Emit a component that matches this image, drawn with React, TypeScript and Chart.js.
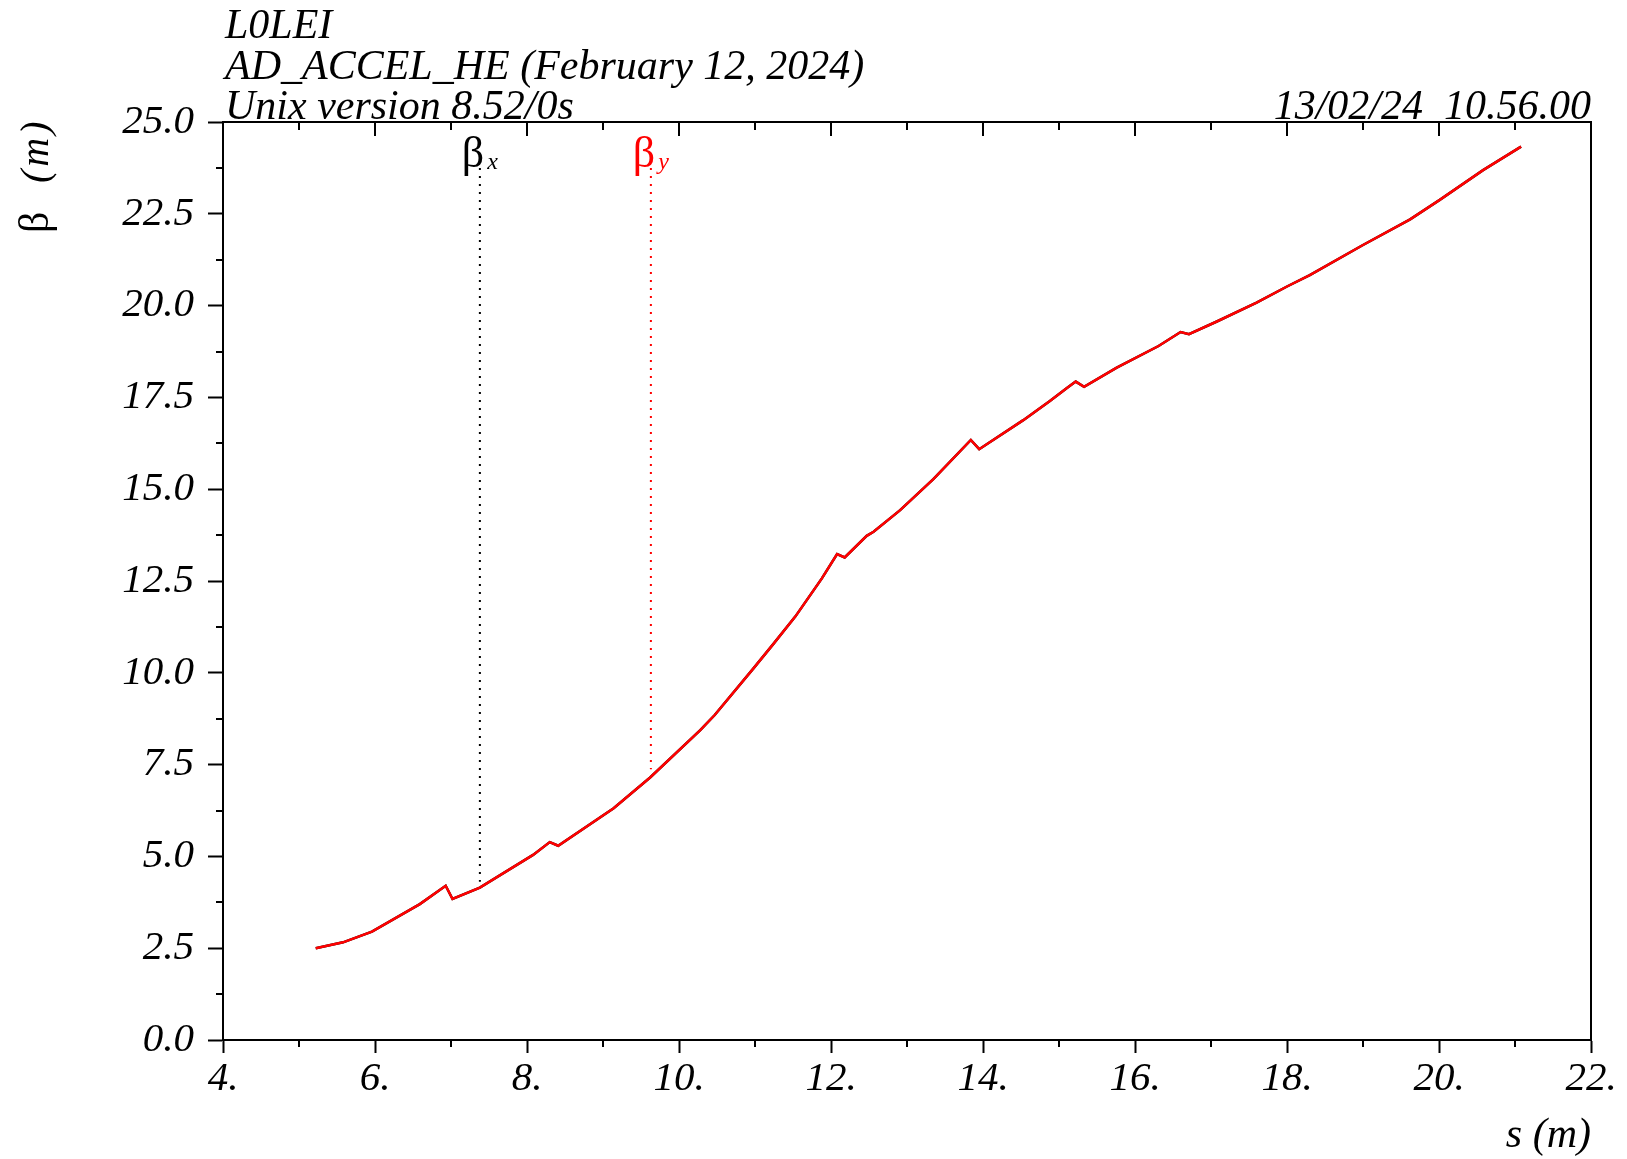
import { useEffect, useRef } from 'react';
import { Chart, registerables } from 'chart.js';

Chart.register(...registerables);

// ---- data ----
const sValues = [5.22, 5.58, 5.96, 6.59, 6.93, 7.02, 7.38, 8.08, 8.30, 8.41, 9.14, 9.62, 10.28, 10.47, 10.98, 11.24, 11.53, 11.88, 12.08, 12.18, 12.47, 12.56, 12.91, 13.35, 13.84, 13.95, 14.53, 14.88, 15.10, 15.22, 15.33, 15.76, 16.31, 16.60, 16.71, 17.07, 17.60, 18.00, 18.30, 19.00, 19.62, 20.01, 20.58, 21.08];
const betaXValues = [2.50, 2.66, 2.95, 3.70, 4.20, 3.84, 4.15, 5.04, 5.39, 5.29, 6.31, 7.15, 8.44, 8.85, 10.12, 10.78, 11.53, 12.57, 13.23, 13.14, 13.73, 13.84, 14.43, 15.28, 16.34, 16.09, 16.88, 17.40, 17.75, 17.93, 17.79, 18.31, 18.90, 19.28, 19.22, 19.56, 20.08, 20.52, 20.83, 21.65, 22.35, 22.88, 23.69, 24.33];
const betaYValues = [2.50, 2.66, 2.95, 3.70, 4.20, 3.84, 4.15, 5.04, 5.39, 5.29, 6.31, 7.15, 8.44, 8.85, 10.12, 10.78, 11.53, 12.57, 13.23, 13.14, 13.73, 13.84, 14.43, 15.28, 16.34, 16.09, 16.88, 17.40, 17.75, 17.93, 17.79, 18.31, 18.90, 19.28, 19.22, 19.56, 20.08, 20.52, 20.83, 21.65, 22.35, 22.88, 23.69, 24.33];

const markerNames = ['x', 'y'];
const markerS = [7.38, 9.63];
const markerTop = [23.75, 23.75];
const markerBottom = [4.31, 7.37];
const markerColors = ['#000000', '#ff0000'];

const X_MIN = 4;
const X_MAX = 22;
const X_STEP = 1;
const Y_MIN = 0;
const Y_MAX = 25;
const Y_STEP = 1.25;

const TITLE_LINES = ['L0LEI', 'AD_ACCEL_HE (February 12, 2024)', 'Unix version 8.52/0s'];
const DATE_LABEL = '13/02/24  10.56.00';
const X_TITLE = 's (m)';
const Y_TITLE_SYMBOL = 'β';
const Y_TITLE_UNIT = '(m)';

const FONT = '"Liberation Serif", "DejaVu Serif", serif';

const isMultiple = (v: number, m: number) => Math.abs(v / m - Math.round(v / m)) < 1e-6;

const decorPlugin = {
  id: 'decor',
  afterDraw(chart: any) {
    const { ctx, chartArea } = chart;
    const xs = chart.scales.x;
    const ys = chart.scales.y;
    ctx.save();
    ctx.strokeStyle = '#000';
    ctx.lineWidth = 2;
    ctx.lineCap = 'butt';
    // frame top & right
    ctx.beginPath();
    ctx.moveTo(chartArea.left - 1, chartArea.top);
    ctx.lineTo(chartArea.right, chartArea.top);
    ctx.lineTo(chartArea.right, chartArea.bottom);
    ctx.stroke();
    // x ticks: top inward + bottom minor
    for (let v = X_MIN; v <= X_MAX + 1e-9; v += X_STEP) {
      const px = Math.round(xs.getPixelForValue(v));
      const major = isMultiple(v, 2);
      ctx.beginPath();
      ctx.moveTo(px, chartArea.top);
      ctx.lineTo(px, chartArea.top + (major ? 14 : 8));
      if (!major) {
        ctx.moveTo(px, chartArea.bottom);
        ctx.lineTo(px, chartArea.bottom + 7);
      }
      ctx.stroke();
    }
    // y minor ticks
    for (let v = Y_MIN; v <= Y_MAX + 1e-9; v += Y_STEP) {
      if (isMultiple(v, 2.5)) continue;
      const py = Math.round(ys.getPixelForValue(v));
      ctx.beginPath();
      ctx.moveTo(chartArea.left, py);
      ctx.lineTo(chartArea.left - 7, py);
      ctx.stroke();
    }
    ctx.restore();

    ctx.save();
    ctx.fillStyle = '#000';
    ctx.textBaseline = 'alphabetic';
    // title lines
    ctx.font = `italic 42px ${FONT}`;
    ctx.textAlign = 'left';
    const baselines = [38, 79, 119];
    TITLE_LINES.forEach((t, i) => ctx.fillText(t, 225, baselines[i]));
    ctx.textAlign = 'right';
    ctx.fillText(DATE_LABEL, chartArea.right, 119);
    // x title
    ctx.font = `italic 42px ${FONT}`;
    ctx.fillText(X_TITLE, chartArea.right, 1147);
    // y title
    ctx.save();
    ctx.translate(48, 233);
    ctx.rotate(-Math.PI / 2);
    ctx.textAlign = 'left';
    ctx.font = `42px ${FONT}`;
    ctx.fillText(Y_TITLE_SYMBOL, 0, 0);
    ctx.font = `italic 40px ${FONT}`;
    try {
      (ctx as any).letterSpacing = '3px';
    } catch (e) {
      /* ignore */
    }
    ctx.fillText(Y_TITLE_UNIT, 50, 0);
    try {
      (ctx as any).letterSpacing = '0px';
    } catch (e) {
      /* ignore */
    }
    ctx.restore();
    // marker labels
    markerNames.forEach((name, i) => {
      const cx = xs.getPixelForValue(markerS[i]);
      const by = ys.getPixelForValue(markerTop[i]);
      ctx.fillStyle = markerColors[i];
      ctx.font = `44px ${FONT}`;
      const w1 = ctx.measureText('β').width;
      ctx.font = `italic 24px ${FONT}`;
      const w2 = ctx.measureText(name).width;
      const start = cx - (w1 + 3 + w2) / 2;
      ctx.textAlign = 'left';
      ctx.font = `44px ${FONT}`;
      ctx.fillText('β', start, by - 1);
      ctx.font = `italic 24px ${FONT}`;
      ctx.fillText(name, start + w1 + 3, by + 1);
    });
    ctx.restore();
  },
};

export default function App() {
  const canvasRef = useRef<HTMLCanvasElement | null>(null);

  useEffect(() => {
    const canvas = canvasRef.current;
    if (!canvas) return;
    const toPoints = (ys: number[]) => sValues.map((s, i) => ({ x: s, y: ys[i] }));
    const markerDatasets = markerNames.map((name, i) => ({
      label: 'marker ' + name,
      data: [
        { x: markerS[i], y: markerTop[i] },
        { x: markerS[i], y: markerBottom[i] },
      ],
      borderColor: markerColors[i],
      borderWidth: 2,
      borderDash: [2, 6],
      pointRadius: 0,
      order: 2,
    }));
    const chart = new Chart(canvas, {
      type: 'line',
      data: {
        datasets: [
          {
            label: 'βy',
            data: toPoints(betaYValues),
            borderColor: '#ff0000',
            borderWidth: 2.5,
            pointRadius: 0,
            tension: 0,
            order: 0,
          },
          {
            label: 'βx',
            data: toPoints(betaXValues),
            borderColor: '#000000',
            borderWidth: 2.5,
            pointRadius: 0,
            tension: 0,
            order: 1,
          },
          ...markerDatasets,
        ],
      },
      options: {
        responsive: false,
        animation: false,
        events: [],
        layout: { padding: { left: 0, top: 122, right: 36, bottom: 0 } },
        plugins: {
          legend: { display: false },
          tooltip: { enabled: false },
          title: { display: false },
        },
        scales: {
          x: {
            type: 'linear',
            min: X_MIN,
            max: X_MAX,
            afterFit: (scale: any) => {
              scale.height = 119;
            },
            border: { display: true, color: '#000', width: 2 },
            grid: {
              drawOnChartArea: false,
              drawTicks: true,
              tickLength: 13,
              tickWidth: 2,
              tickColor: (ctx: any) => (isMultiple(ctx.tick.value, 2) ? '#000' : 'rgba(0,0,0,0)'),
            },
            ticks: {
              stepSize: X_STEP,
              autoSkip: false,
              maxRotation: 0,
              padding: 2,
              color: '#000',
              font: { family: FONT, size: 41, style: 'italic' },
              callback: (value: any) => (isMultiple(Number(value), 2) ? `${Number(value)}.` : ''),
            },
          },
          y: {
            type: 'linear',
            min: Y_MIN,
            max: Y_MAX,
            afterFit: (scale: any) => {
              scale.width = 223;
            },
            border: { display: true, color: '#000', width: 2 },
            grid: {
              drawOnChartArea: false,
              drawTicks: true,
              tickLength: 15,
              tickWidth: 2,
              tickColor: (ctx: any) => (isMultiple(ctx.tick.value, 2.5) ? '#000' : 'rgba(0,0,0,0)'),
            },
            ticks: {
              stepSize: Y_STEP,
              autoSkip: false,
              padding: 14,
              color: '#000',
              font: { family: FONT, size: 41, style: 'italic' },
              callback: (value: any) => (isMultiple(Number(value), 2.5) ? Number(value).toFixed(1) : ''),
            },
          },
        },
      },
      plugins: [decorPlugin],
    });
    return () => chart.destroy();
  }, []);

  return (
    <div style={{ position: 'absolute', left: 0, top: 0, width: 1627, height: 1159, background: '#fff' }}>
      <canvas ref={canvasRef} width={1627} height={1159} style={{ display: 'block' }} />
    </div>
  );
}
